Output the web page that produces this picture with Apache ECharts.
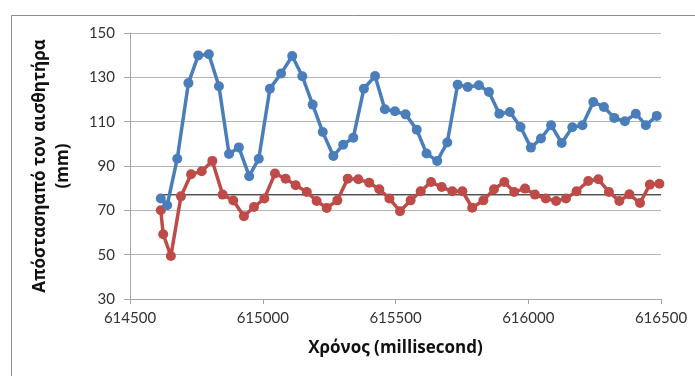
<!DOCTYPE html>
<html>
<head>
<meta charset="utf-8">
<script src="https://cdn.jsdelivr.net/npm/echarts@6/dist/echarts.min.js"></script>
<style>html,body{margin:0;padding:0;background:#fff;}#c{width:695px;height:376px;}</style>
</head>
<body>
<div id="c"></div>
<script>
const xTitle = 'Χρόνος (millisecond)';
const yTitle = 'Απόστασηαπό τον αισθητήρα\n(mm)';
const xTicks = [614500, 615000, 615500, 616000, 616500];
const yTicks = [30, 50, 70, 90, 110, 130, 150];

const blueTime = [614616, 614640, 614678, 614720, 614757, 614797, 614835, 614873, 614910, 614949,
  614985, 615027, 615069, 615111, 615149, 615188, 615226, 615266, 615303, 615341,
  615381, 615423, 615460, 615498, 615538, 615580, 615617, 615657, 615695, 615734,
  615772, 615814, 615852, 615891, 615931, 615971, 616010, 616048, 616086, 616126,
  616166, 616204, 616245, 616285, 616324, 616364, 616405, 616443, 616484];
const blueVal = [75.3, 72.3, 93.3, 127.4, 139.9, 140.4, 126, 95.4, 98.4, 85.4,
  93.3, 124.9, 131.7, 139.6, 130.5, 117.7, 105.3, 94.5, 99.6, 102.8,
  124.9, 130.6, 115.6, 114.7, 113.3, 106.4, 95.6, 92.3, 100.6, 126.7,
  125.6, 126.4, 123.4, 113.6, 114.4, 107.6, 98.3, 102.4, 108.4, 100.4,
  107.5, 108.4, 118.9, 116.6, 111.7, 110.2, 113.6, 108.4, 112.6];

const redTime = [614616, 614625, 614654, 614692, 614730, 614770, 614810, 614849, 614889, 614929,
  614967, 615006, 615046, 615086, 615124, 615166, 615203, 615241, 615281, 615320,
  615360, 615401, 615439, 615477, 615517, 615557, 615595, 615634, 615674, 615714,
  615752, 615789, 615831, 615871, 615910, 615947, 615988, 616025, 616066, 616105,
  616142, 616182, 616226, 616264, 616304, 616343, 616381, 616421, 616458, 616494];
const redVal = [70.0, 59.2, 49.4, 76.3, 86.3, 87.6, 92.3, 77.1, 74.4, 67.3,
  71.5, 75.3, 86.6, 84.3, 81.3, 78.3, 74.2, 71.1, 74.5, 84.3,
  84.0, 82.5, 79.5, 75.3, 69.6, 74.5, 78.6, 82.8, 80.5, 78.6,
  78.6, 71.2, 74.5, 79.5, 82.8, 78.3, 79.8, 77.1, 75.3, 74.2,
  75.3, 78.6, 83.2, 84.0, 78.3, 74.2, 77.2, 73.3, 81.6, 82.0];

const refTime = [614616, 616500];
const refVal = [77, 77];

const zip = (a, b) => a.map((t, i) => [t, b[i]]);

const chart = echarts.init(document.getElementById('c'), null, {renderer: 'canvas'});
chart.setOption({
  animation: false,
  backgroundColor: '#ffffff',
  textStyle: {fontFamily: 'Lato, "Open Sans", sans-serif'},
  grid: {left: 130, right: 34, top: 33, bottom: 77},
  graphic: [{
    type: 'rect', left: 9, top: 13, z: -10,
    shape: {width: 720, height: 420},
    style: {fill: 'none', stroke: '#8c8c8c', lineWidth: 1}
  }],
  xAxis: {
    type: 'value',
    min: xTicks[0], max: xTicks[xTicks.length - 1], interval: 500,
    axisLine: {show: true, lineStyle: {color: '#a6a6a6', width: 1}},
    axisTick: {show: true, length: 5, lineStyle: {color: '#a6a6a6'}},
    splitLine: {show: false},
    axisLabel: {color: '#333', fontSize: 15, margin: 12, fontFamily: 'Lato, sans-serif',
      formatter: v => String(v)},
    name: xTitle, nameLocation: 'middle', nameGap: 41,
    nameTextStyle: {fontSize: 17, fontWeight: 'bold', color: '#111', fontFamily: '"Open Sans", sans-serif'}
  },
  yAxis: {
    type: 'value',
    min: yTicks[0], max: yTicks[yTicks.length - 1], interval: 20,
    axisLine: {show: true, lineStyle: {color: '#a6a6a6', width: 1}},
    axisTick: {show: true, length: 6, lineStyle: {color: '#a6a6a6'}},
    splitLine: {show: true, lineStyle: {color: '#b4b4b4', width: 1}},
    axisLabel: {color: '#333', fontSize: 15, margin: 15, fontFamily: 'Lato, sans-serif',
      formatter: v => String(v)},
    name: yTitle, nameLocation: 'middle', nameGap: 55,
    nameTextStyle: {fontSize: 17, fontWeight: 'bold', color: '#111', lineHeight: 23, fontFamily: '"Open Sans", sans-serif'}
  },
  series: [
    {
      type: 'line', data: zip(refTime, refVal), symbol: 'none',
      lineStyle: {color: '#000', width: 1}, z: 1, silent: true
    },
    {
      type: 'line', data: zip(blueTime, blueVal), symbol: 'circle', symbolSize: 10,
      lineStyle: {color: '#4a7ebb', width: 3.5}, itemStyle: {color: '#4a7ebb'}, z: 3
    },
    {
      type: 'line', data: zip(redTime, redVal), symbol: 'circle', symbolSize: 10,
      lineStyle: {color: '#be4b48', width: 3.5}, itemStyle: {color: '#be4b48'}, z: 2
    }
  ]
});
</script>
</body>
</html>
